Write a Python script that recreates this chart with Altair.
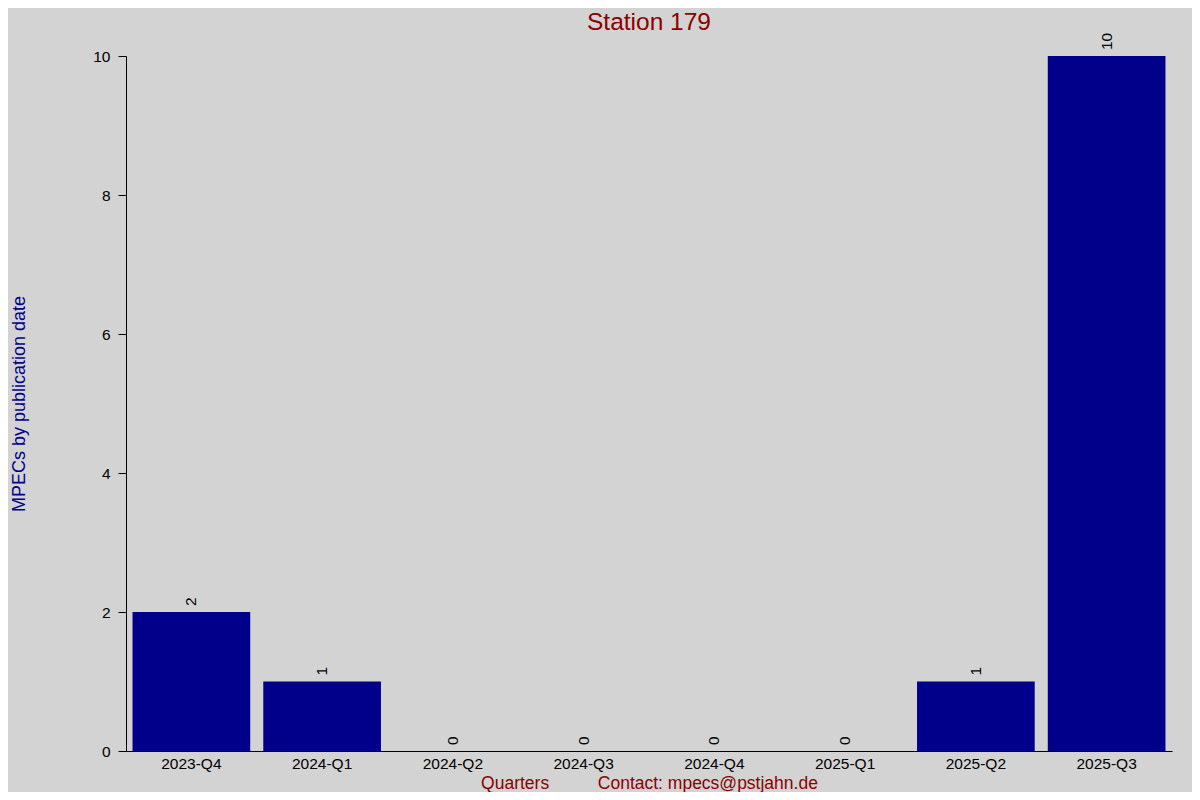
import altair as alt
import pandas as pd

quarters = ["2023-Q4", "2024-Q1", "2024-Q2", "2024-Q3", "2024-Q4", "2025-Q1", "2025-Q2", "2025-Q3"]
counts = [2, 1, 0, 0, 0, 0, 1, 10]
y_ticks = [0, 2, 4, 6, 8, 10]

df = pd.DataFrame({"quarter": quarters, "count": counts})

FONT = "Liberation Sans"
NB = "\u00a0"
x_title = "Quarters" + NB * 10 + "Contact: mpecs@pstjahn.de"

x_enc = alt.X(
    "quarter:N",
    sort=quarters,
    scale=alt.Scale(paddingInner=0.1, paddingOuter=0.05),
    axis=alt.Axis(
        title=x_title,
        labelAngle=0,
        ticks=False,
        labelPadding=5,
        labelFontSize=15.5,
        labelColor="black",
        labelFont=FONT,
        titleFontSize=17.5,
        titleFont=FONT,
        titleFontWeight="normal",
        titleColor="#8B0000",
        titlePadding=3,
        domainColor="black",
        domainWidth=1,
    ),
)

y_enc = alt.Y(
    "count:Q",
    scale=alt.Scale(domain=[0, 10], nice=False),
    axis=alt.Axis(
        title="MPECs by publication date",
        values=y_ticks,
        format="d",
        grid=False,
        tickSize=8,
        tickColor="black",
        labelPadding=8,
        labelFontSize=15.5,
        labelColor="black",
        labelFont=FONT,
        titleFontSize=18,
        titleFont=FONT,
        titleFontWeight="normal",
        titleColor="#00008B",
        titlePadding=64,
        domainColor="black",
    ),
)

bars = alt.Chart(df).mark_bar(color="#00008B").encode(x=x_enc, y=y_enc)

labels = alt.Chart(df).mark_text(
    angle=270, align="left", baseline="middle", dx=6, fontSize=15.5, font=FONT, color="black"
).encode(x=alt.X("quarter:N", sort=quarters), y=alt.Y("count:Q"), text="count:Q")

chart = (
    alt.layer(bars, labels)
    .properties(
        width=1046,
        height=695,
        title=alt.TitleParams(
            "Station 179", fontSize=24.5, font=FONT, fontWeight="normal", color="#8B0000",
            anchor="middle", offset=-3,
        ),
        padding={"left": 118, "top": 48, "right": 20, "bottom": 41},
        autosize=alt.AutoSizeParams(type="none"),
        background="#D3D3D3",
    )
    .configure_view(stroke=None)
)

chart.save("out.html", embed_options={"renderer": "svg", "actions": False})
